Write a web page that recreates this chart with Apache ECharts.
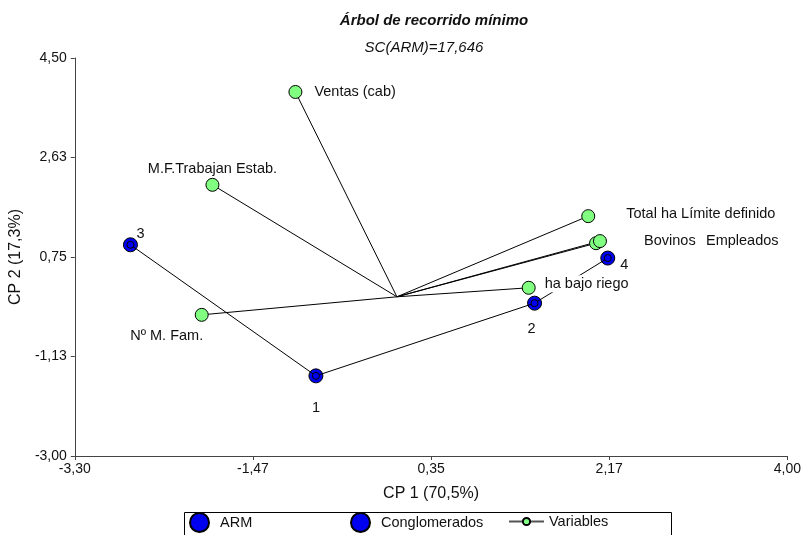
<!DOCTYPE html>
<html>
<head>
<meta charset="utf-8">
<script src="https://cdn.jsdelivr.net/npm/echarts@6/dist/echarts.min.js"></script>
<style>
  html, body { margin: 0; padding: 0; background: #fff; }
  #chart { width: 804px; height: 535px; }
</style>
</head>
<body>
<div id="chart"></div>
<script>
// variables (vectors from origin)
var varNames = ['Ventas (cab)', 'M.F.Trabajan Estab.', 'Nº M. Fam.', 'Total ha Límite definido', 'Bovinos', 'Empleados', 'ha bajo riego'];
var varX = [-1.04, -1.89, -2.00, 1.96, 2.04, 2.08, 1.35];
var varY = [3.86, 2.11, -0.34, 1.52, 1.01, 1.05, 0.17];

// conglomerados
var clusterIds = ['1', '2', '3', '4'];
var clusterX = [-0.83, 1.41, -2.73, 2.16];
var clusterY = [-1.49, -0.12, 0.98, 0.73];

// minimum spanning tree path
var armPath = ['3', '1', '2', '4'];

var xTicks = ['-3,30', '-1,47', '0,35', '2,17', '4,00'];
var yTicks = ['-3,00', '-1,13', '0,75', '2,63', '4,50'];

var xMin = -3.3, xMax = 4.0, xStep = 1.825;
var yMin = -3.0, yMax = 4.5, yStep = 1.875;

var sans = '"Liberation Sans", Arial, sans-serif';

// label placement for each point
var varLabel = {
  'Ventas (cab)': { position: 'right', distance: 12 },
  'M.F.Trabajan Estab.': { position: 'top', distance: 1 },
  'Nº M. Fam.': { position: 'bottom', distance: 7, offset: [-35, 0] },
  'Total ha Límite definido': { position: 'right', distance: 31, offset: [0, -2] },
  'Bovinos': { position: 'right', distance: 41, offset: [0, -2] },
  'Empleados': { position: 'right', distance: 99 },
  'ha bajo riego': { position: 'right', distance: 7, offset: [0, -4], backgroundColor: '#fff', padding: [1, 2] }
};
var clusterLabel = {
  '1': { position: 'bottom', distance: 17 },
  '2': { position: 'bottom', distance: 11, offset: [-3, 0] },
  '3': { position: 'top', distance: 0, offset: [10, 4] },
  '4': { position: 'right', distance: 5, offset: [0, 7] }
};

var varData = [];
for (var i = 0; i < varNames.length; i++) {
  if (i > 0) varData.push('-');
  varData.push({ value: [0, 0], symbol: 'none', label: { show: false } });
  var lb = varLabel[varNames[i]];
  varData.push({
    name: varNames[i],
    value: [varX[i], varY[i]],
    label: Object.assign({ show: true, formatter: varNames[i], color: '#111', fontSize: 14.5, fontFamily: sans }, lb)
  });
}

var clusterData = clusterIds.map(function(id, i) {
  return {
    name: id,
    value: [clusterX[i], clusterY[i]],
    label: Object.assign({ show: true, formatter: id, color: '#111', fontSize: 14.5, fontFamily: sans }, clusterLabel[id])
  };
});

var armData = armPath.map(function(id) {
  var k = clusterIds.indexOf(id);
  return [clusterX[k], clusterY[k]];
});

function tickFmt(labels, min, step) {
  return function(v) {
    var k = Math.round((v - min) / step);
    return labels[k] !== undefined ? labels[k] : '';
  };
}

var legendText = { fontSize: 14.5, fontFamily: sans, color: '#111' };

var myChart = echarts.init(document.getElementById('chart'));
option = {
  animation: false,
  title: [
    {
      text: 'Árbol de recorrido mínimo',
      left: 429, top: 8, textAlign: 'center',
      textStyle: { fontSize: 15, fontWeight: 'bold', fontStyle: 'italic', fontFamily: sans, color: '#111' }
    },
    {
      text: 'SC(ARM)=17,646',
      left: 419, top: 35, textAlign: 'center',
      textStyle: { fontSize: 15, fontWeight: 'normal', fontStyle: 'italic', fontFamily: sans, color: '#111' }
    }
  ],
  grid: { left: 73, right: 16, top: 58, bottom: 79, containLabel: false },
  graphic: [
    {
      type: 'rect', left: 182, top: 510, silent: true,
      shape: { width: 487, height: 40 },
      style: { fill: 'none', stroke: '#000', lineWidth: 1 }
    }
  ],
  legend: [
    {
      left: 189, top: 512, padding: 0,
      itemWidth: 31, itemHeight: 19,
      textStyle: legendText,
      data: [{ name: 'ARM', icon: 'circle' }]
    },
    {
      left: 350, top: 512, padding: 0,
      itemWidth: 31, itemHeight: 19,
      textStyle: legendText,
      data: [{ name: 'Conglomerados', icon: 'circle' }]
    },
    {
      left: 508, top: 514, padding: 0,
      itemWidth: 35, itemHeight: 9,
      textStyle: legendText,
      lineStyle: { color: '#555' },
      data: [{ name: 'Variables' }]
    }
  ],
  xAxis: {
    type: 'value', min: xMin, max: xMax, interval: xStep,
    name: 'CP 1 (70,5%)', nameLocation: 'middle', nameGap: 30,
    nameTextStyle: { fontSize: 16, fontFamily: sans, color: '#111' },
    axisLine: { onZero: false, lineStyle: { color: '#444' } },
    axisTick: { show: true, length: 4, lineStyle: { color: '#444' } },
    axisLabel: { formatter: tickFmt(xTicks, xMin, xStep), fontSize: 14, fontFamily: sans, color: '#111', margin: 6, showMaxLabel: true, showMinLabel: true },
    splitLine: { show: false }
  },
  yAxis: {
    type: 'value', min: yMin, max: yMax, interval: yStep,
    name: 'CP 2 (17,3%)', nameLocation: 'middle', nameGap: 43, nameRotate: 90,
    nameTextStyle: { fontSize: 16, fontFamily: sans, color: '#111' },
    axisLine: { onZero: false, lineStyle: { color: '#444' } },
    axisTick: { show: true, length: 4, lineStyle: { color: '#444' } },
    axisLabel: { formatter: tickFmt(yTicks, yMin, yStep), fontSize: 14, fontFamily: sans, color: '#111', margin: 8, showMaxLabel: true, showMinLabel: true },
    splitLine: { show: false }
  },
  series: [
    {
      name: 'ARM',
      type: 'line',
      z: 2,
      data: armData,
      symbol: 'circle', symbolSize: 7,
      itemStyle: { color: '#0000f0', borderColor: '#000', borderWidth: 1 },
      lineStyle: { color: '#000', width: 1 },
      label: { show: false }
    },
    {
      name: 'Conglomerados',
      type: 'scatter',
      z: 1,
      data: clusterData,
      symbol: 'circle', symbolSize: 14,
      itemStyle: { color: '#0000f0', borderColor: '#000', borderWidth: 1, opacity: 1 }
    },
    {
      name: 'Variables',
      type: 'line',
      z: 3,
      data: varData,
      connectNulls: false,
      symbol: 'circle', symbolSize: 13, showAllSymbol: true,
      itemStyle: { color: '#80ff80', borderColor: '#000', borderWidth: 1 },
      lineStyle: { color: '#000', width: 1 }
    }
  ]
};
myChart.setOption(option);
</script>
</body>
</html>
